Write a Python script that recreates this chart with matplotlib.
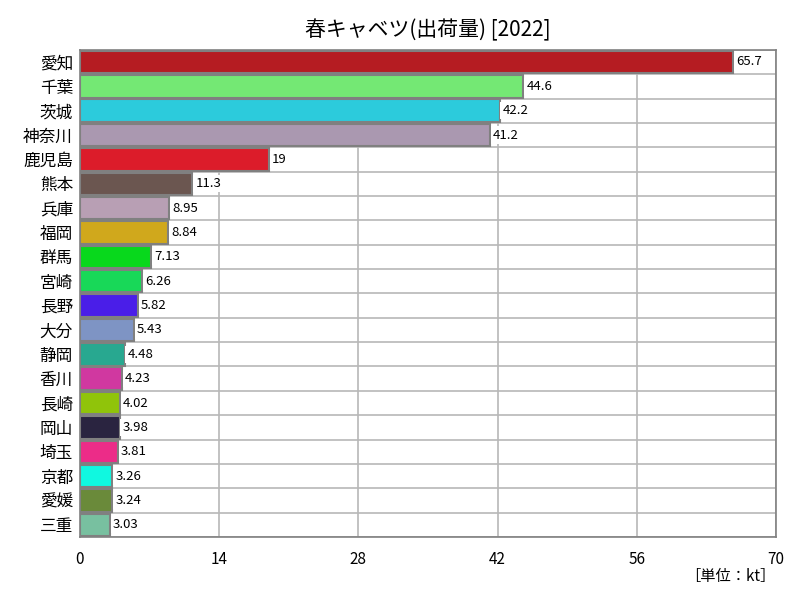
import matplotlib.pyplot as plt
import numpy as np

plt.rcParams['font.family'] = ['Noto Sans CJK JP', 'DejaVu Sans']

prefs = ['愛知', '千葉', '茨城', '神奈川', '鹿児島', '熊本', '兵庫', '福岡', '群馬', '宮崎',
         '長野', '大分', '静岡', '香川', '長崎', '岡山', '埼玉', '京都', '愛媛', '三重']
values = [65.7, 44.6, 42.2, 41.2, 19, 11.3, 8.95, 8.84, 7.13, 6.26,
          5.82, 5.43, 4.48, 4.23, 4.02, 3.98, 3.81, 3.26, 3.24, 3.03]
labels = ['65.7', '44.6', '42.2', '41.2', '19', '11.3', '8.95', '8.84', '7.13', '6.26',
          '5.82', '5.43', '4.48', '4.23', '4.02', '3.98', '3.81', '3.26', '3.24', '3.03']
colors = ['#b51c22', '#74e874', '#2ccbdc', '#aa98b0', '#dc1c2a', '#6b5650', '#b89fb4',
          '#d0a81c', '#08d81c', '#18d858', '#4a1ee8', '#7e94c4', '#28a890', '#d038a0',
          '#90c40a', '#2a2440', '#ec2c88', '#10f8e0', '#6a8a3a', '#78c0a0']
xticks = [0, 14, 28, 42, 56, 70]

fig = plt.figure(figsize=(8, 6), dpi=100)
ax = fig.add_axes([0.1, 0.105, 0.87, 0.812])

y = np.arange(len(prefs))
ax.barh(y, values, height=0.92, color=colors, edgecolor='#808080', linewidth=1.5, zorder=3)

for yi, v, s in zip(y, values, labels):
    ax.text(v + 0.3, yi, s, va='center', ha='left', fontsize=9.5, zorder=4,
            bbox=dict(facecolor='white', edgecolor='none', pad=1.5))

ax.set_ylim(len(prefs) - 0.5, -0.5)
ax.set_xlim(0, 70)
ax.set_xticks(xticks)
ax.set_xticklabels([str(t) for t in xticks], fontsize=11)
ax.set_yticks(y)
ax.set_yticklabels(prefs, fontsize=12)
ax.set_yticks(np.arange(len(prefs) + 1) - 0.5, minor=True)
ax.tick_params(axis='both', length=0, which='both')
ax.tick_params(axis='x', pad=10)
ax.tick_params(axis='y', pad=5)
ax.grid(axis='x', color='#b8b8b8', linewidth=1.2, zorder=0)
ax.grid(axis='y', which='minor', color='#b8b8b8', linewidth=1.2, zorder=0)
ax.grid(axis='y', which='major', visible=False)
for sp in ax.spines.values():
    sp.set_color('#808080')
    sp.set_linewidth(1.2)

ax.set_title('春キャベツ(出荷量) [2022]', fontsize=15, pad=10)
fig.text(0.97, 0.025, '［単位：kt］', ha='right', va='bottom', fontsize=11)

fig.savefig('out.png', dpi=100)
